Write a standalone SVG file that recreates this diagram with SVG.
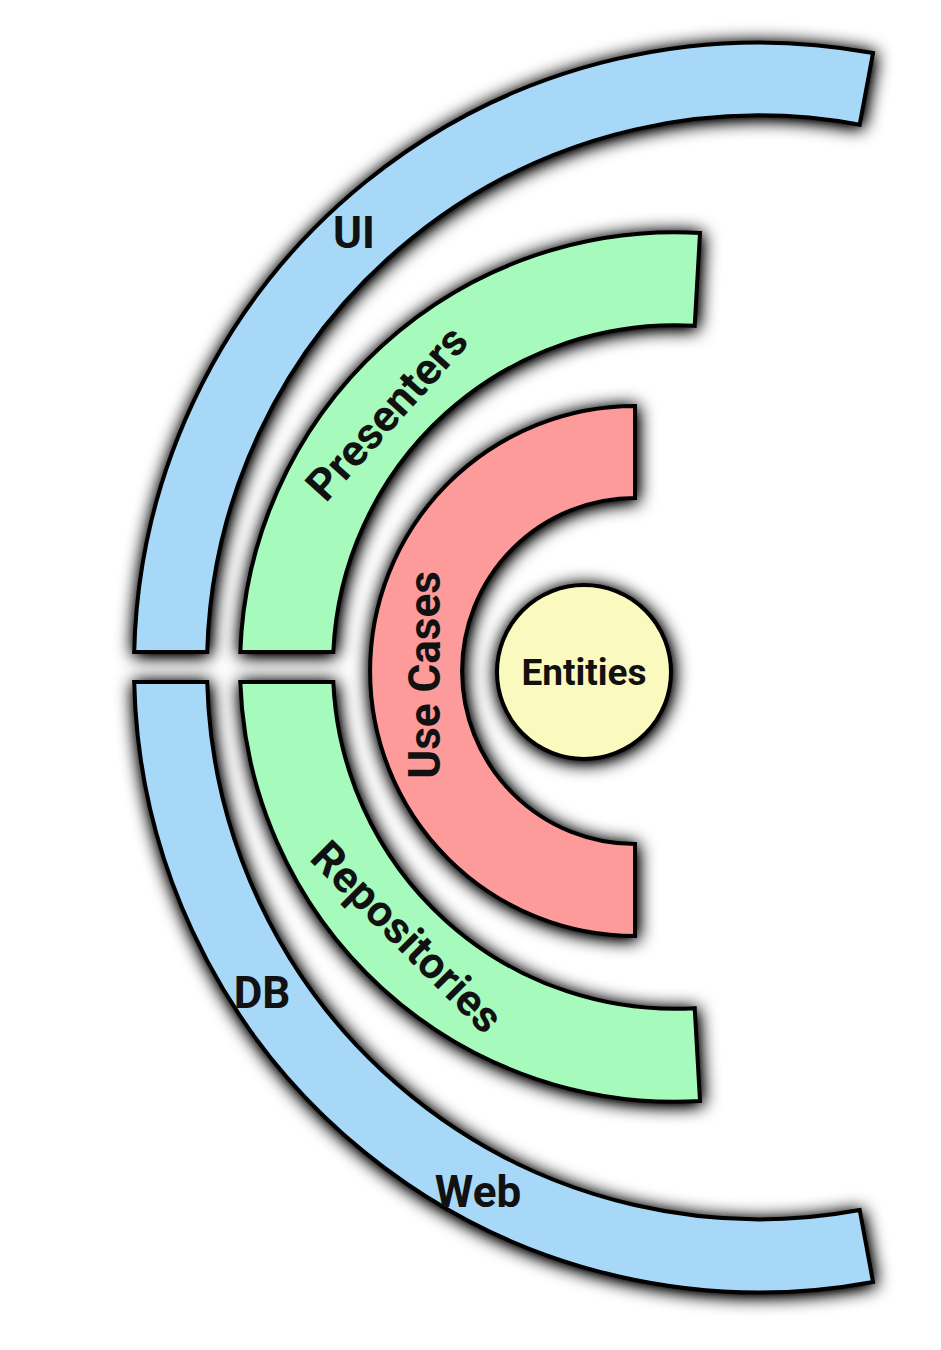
<svg xmlns="http://www.w3.org/2000/svg" width="941" height="1350" viewBox="0 0 941 1350">
<defs>
<filter id="sh" filterUnits="userSpaceOnUse" x="0" y="0" width="941" height="1350" color-interpolation-filters="sRGB">
<feGaussianBlur in="SourceAlpha" stdDeviation="9" result="blur"/>
<feOffset in="blur" dx="1" dy="2" result="off"/>
<feComponentTransfer in="off" result="amp"><feFuncA type="linear" slope="1.7"/></feComponentTransfer>
<feFlood flood-color="#000" flood-opacity="0.85" result="col"/>
<feComposite in="col" in2="amp" operator="in" result="shadow"/>
<feMerge><feMergeNode in="shadow"/><feMergeNode in="SourceGraphic"/></feMerge>
</filter>
</defs>
<style>
.s{stroke:#000;stroke-width:4;stroke-linejoin:miter}
.blue{fill:#A8D8F8}.green{fill:#A6FABC}.red{fill:#FD9B9B}.yellow{fill:#FAFABE}
.t{font-family:Roboto,"Liberation Sans",sans-serif;font-weight:bold;font-size:44px;fill:#111;text-anchor:middle;dominant-baseline:central}
.e{font-size:37px}
</style>
<rect width="941" height="1350" fill="#fff"/>
<g id="ui">
<path class="s blue" filter="url(#sh)" d="M134.2,652 A625,625 0 0 1 873,53 L859.7,124.7 A552,552 0 0 0 207.2,652 Z"/>
<text class="t" x="354" y="233">UI</text>
</g>
<g id="db-web">
<path class="s blue" filter="url(#sh)" d="M134.2,682 A625,625 0 0 0 873,1282 L859.7,1210 A552,552 0 0 1 207.2,682 Z"/>
<text class="t" x="262" y="993">DB</text>
<text class="t" x="478" y="1192">Web</text>
</g>
<g id="presenters">
<path class="s green" filter="url(#sh)" d="M240.3,652 A435,435 0 0 1 700,233 L694.7,325.8 A342,342 0 0 0 333.3,652 Z"/>
<text class="t" transform="translate(387,413) rotate(-48)">Presenters</text>
</g>
<g id="repositories">
<path class="s green" filter="url(#sh)" d="M240.3,682 A435,435 0 0 0 700,1101 L694.7,1008.2 A342,342 0 0 1 333.3,682 Z"/>
<text class="t" transform="translate(407,937) rotate(45)">Repositories</text>
</g>
<g id="use-cases">
<path class="s red" filter="url(#sh)" d="M635,406 A265,265 0 0 0 635,936 L635,844 A173,173 0 0 1 635,498 Z"/>
<text class="t" transform="translate(425,675) rotate(-90)">Use Cases</text>
</g>
<g id="entities">
<circle class="s yellow" filter="url(#sh)" cx="584" cy="672" r="87"/>
<text class="t e" x="584" y="672">Entities</text>
</g>
</svg>
